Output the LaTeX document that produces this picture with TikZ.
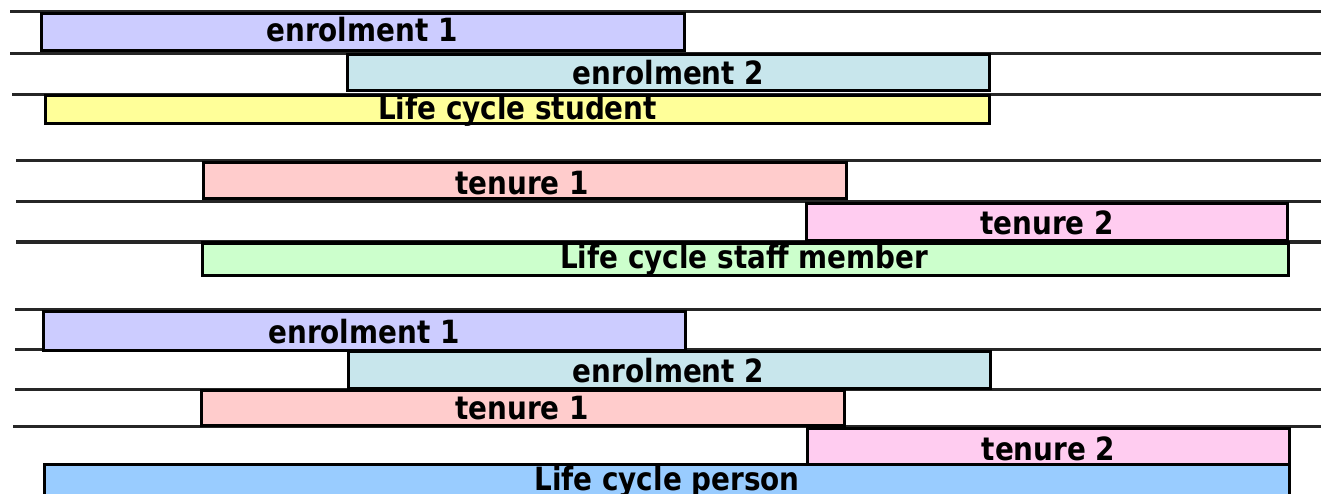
\documentclass[tikz,border=0pt]{standalone}
\usepackage{fontspec}
\newfontfamily\labfont{DejaVu Sans}[FakeStretch=0.87]
\definecolor{cenrA}{RGB}{204,204,255}
\definecolor{cenrB}{RGB}{200,230,236}
\definecolor{cstud}{RGB}{255,255,153}
\definecolor{cten1}{RGB}{255,204,204}
\definecolor{cten2}{RGB}{255,204,240}
\definecolor{cstaff}{RGB}{204,255,204}
\definecolor{cpers}{RGB}{153,204,255}
\tikzset{
  lane/.style={line width=3pt, draw=black!85},
  bar/.style={line width=3pt, draw=black},
  lab/.style={anchor=base, inner sep=0pt, font=\labfont\bfseries\fontsize{32}{32}\selectfont}
}
\begin{document}
\begin{tikzpicture}[x=1pt,y=-1pt]
\useasboundingbox (0,0) rectangle (1321,494);
% lane lines
\coordinate (g1a) at (10,11.5);   \coordinate (g1ae) at (1321,11.5);
\coordinate (g1b) at (10,54);     \coordinate (g1be) at (1321,54);
\coordinate (g1c) at (12,95);     \coordinate (g1ce) at (1321,95);
\coordinate (g2a) at (16,161);    \coordinate (g2ae) at (1321,161);
\coordinate (g2b) at (16,201.5);  \coordinate (g2be) at (1321,201.5);
\coordinate (g2c) at (16,242);    \coordinate (g2ce) at (1321,242);
\coordinate (g3a) at (15,309.5);  \coordinate (g3ae) at (1321,309.5);
\coordinate (g3b) at (15,349.5);  \coordinate (g3be) at (1321,349.5);
\coordinate (g3c) at (15,389.5);  \coordinate (g3ce) at (1321,389.5);
\coordinate (g3d) at (13,426.5);  \coordinate (g3de) at (1321,426.5);
\foreach \l in {g1a,g1b,g1c,g2a,g2b,g2c,g3a,g3b,g3c,g3d}
  \draw[lane] (\l) -- (\l e);
% group 1
\draw[bar, fill=cenrA] (41.5,13.5) rectangle (684.5,51);
\node[lab] (e1a) at (362,42) {enrolment 1};
\draw[bar, fill=cenrB] (347.5,55) rectangle (989.5,91);
\node[lab] (e2a) at (668.5,85) {enrolment 2};
\draw[bar, fill=cstud] (45,95.5) rectangle (989.5,123.5);
\node[lab] (lcs) at (517.5,120) {Life cycle student};
% group 2
\draw[bar, fill=cten1] (203.5,162.5) rectangle (846,199);
\node[lab] (t1a) at (522,195) {tenure 1};
\draw[bar, fill=cten2] (806.5,204) rectangle (1287.5,241);
\node[lab] (t2a) at (1047,235) {tenure 2};
\draw[bar, fill=cstaff] (202.5,243) rectangle (1288.5,275);
\node[lab] (lcsm) at (744,268.5) {Life cycle staff member};
% group 3
\draw[bar, fill=cenrA] (43.5,311) rectangle (685,350);
\node[lab] (e1b) at (364,343) {enrolment 1};
\draw[bar, fill=cenrB] (348.5,351) rectangle (990.5,388);
\node[lab] (e2b) at (668.5,382) {enrolment 2};
\draw[bar, fill=cten1] (201.5,390) rectangle (844,425.5);
\node[lab] (t1b) at (522,419) {tenure 1};
\draw[bar, fill=cten2] (807.5,428) rectangle (1289.5,465);
\node[lab] (t2b) at (1048.5,460) {tenure 2};
\draw[bar, fill=cpers] (44.5,464.5) rectangle (1289,500);
\node[lab] (lcp) at (667,490) {Life cycle person};
\end{tikzpicture}
\end{document}
